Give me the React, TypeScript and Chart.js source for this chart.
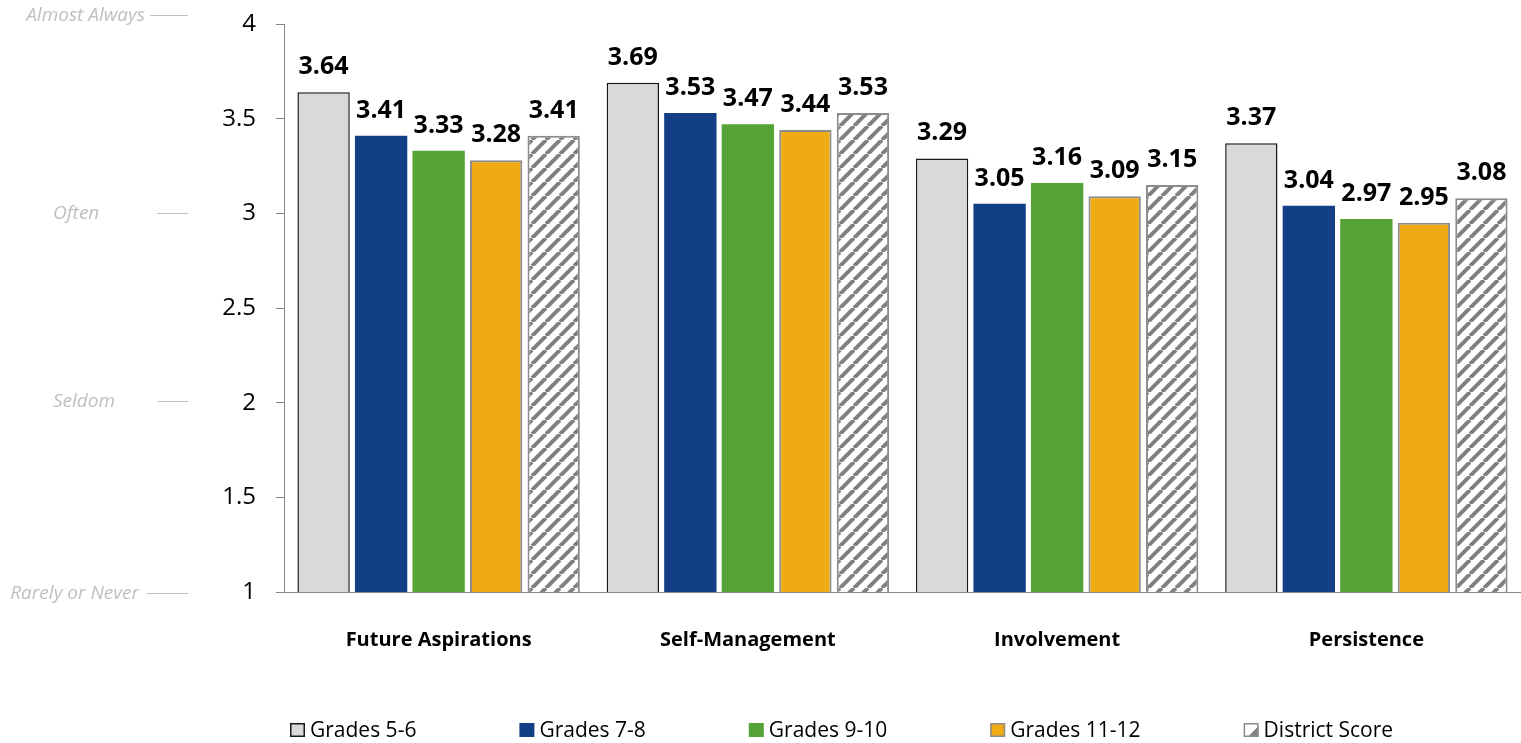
import { useEffect, useRef } from "react";
import { Chart, registerables } from "chart.js";

Chart.register(...registerables);

// Survey categories and the mean score of each grade band
const categories = ["Future Aspirations", "Self-Management", "Involvement", "Persistence"];
const grades56 = [3.64, 3.69, 3.29, 3.37];
const grades78 = [3.41, 3.53, 3.05, 3.04];
const grades910 = [3.33, 3.47, 3.16, 2.97];
const grades1112 = [3.28, 3.44, 3.09, 2.95];
const districtScore = [3.41, 3.53, 3.15, 3.08];
const seriesNames = ["Grades 5-6", "Grades 7-8", "Grades 9-10", "Grades 11-12", "District Score"];

// Response scale
const scaleMin = 1;
const scaleMax = 4;
const scaleStep = 0.5;
const frequencyWords = ["Almost Always", "Often", "Seldom", "Rarely or Never"];
const frequencyValues = [4, 3, 2, 1];

const FONT = "'Open Sans', 'Noto Sans', sans-serif";
const AXIS_GREY = "#868686";

// Where each frequency word sits, relative to its scale value
const frequencyLayout = [
  { align: "right" as CanvasTextAlign, textX: 145, lineX: 150, dy: -9 },
  { align: "left" as CanvasTextAlign, textX: 53, lineX: 157, dy: 0 },
  { align: "left" as CanvasTextAlign, textX: 53, lineX: 158, dy: -2 },
  { align: "right" as CanvasTextAlign, textX: 139, lineX: 147, dy: 1 },
];

function makeHatch(): CanvasPattern | string {
  const size = 14;
  const c = document.createElement("canvas");
  c.width = size;
  c.height = size;
  const g = c.getContext("2d");
  if (!g) return "#ffffff";
  g.fillStyle = "#ffffff";
  g.fillRect(0, 0, size, size);
  g.strokeStyle = "#808080";
  g.lineWidth = 4;
  g.beginPath();
  for (let k = -1; k <= 1; k++) {
    g.moveTo(k * size, size);
    g.lineTo(k * size + size, 0);
  }
  g.stroke();
  return g.createPattern(c, "repeat") || "#ffffff";
}

const valueLabels = {
  id: "valueLabels",
  afterDatasetsDraw(chart: any) {
    const ctx = chart.ctx;
    ctx.save();
    ctx.font = `bold 25px ${FONT}`;
    ctx.fillStyle = "#000000";
    ctx.textAlign = "center";
    ctx.textBaseline = "alphabetic";
    chart.data.datasets.forEach((ds: any, i: number) => {
      const meta = chart.getDatasetMeta(i);
      meta.data.forEach((bar: any, j: number) => {
        const v = ds.data[j] as number;
        ctx.fillText(v.toFixed(2), bar.x, bar.y - 18);
      });
    });
    ctx.restore();
  },
};

const frequencyScale = {
  id: "frequencyScale",
  afterDraw(chart: any) {
    const ctx = chart.ctx;
    const y = chart.scales.y;
    ctx.save();
    ctx.font = `italic 19px ${FONT}`;
    ctx.fillStyle = "#bfbfbf";
    ctx.strokeStyle = "#bfbfbf";
    ctx.lineWidth = 1;
    ctx.textBaseline = "middle";
    frequencyWords.forEach((word, i) => {
      const lay = frequencyLayout[i];
      const py = Math.round(y.getPixelForValue(frequencyValues[i]) + lay.dy) + 0.5;
      ctx.textAlign = lay.align;
      ctx.fillText(word, lay.textX, py);
      ctx.beginPath();
      ctx.moveTo(lay.lineX, py);
      ctx.lineTo(188, py);
      ctx.stroke();
    });
    ctx.restore();
  },
};

const bottomLegend = {
  id: "bottomLegend",
  afterDraw(chart: any) {
    const ctx = chart.ctx;
    const datasets = chart.data.datasets;
    const box = 15;
    const cy = 730;
    let x = 290;
    ctx.save();
    ctx.font = `21px ${FONT}`;
    ctx.textBaseline = "middle";
    ctx.textAlign = "left";
    datasets.forEach((ds: any, i: number) => {
      const top = cy - 7;
      if (i === 4) {
        ctx.fillStyle = "#ffffff";
        ctx.fillRect(x, top, box, 14);
        ctx.fillStyle = "#808080";
        ctx.beginPath();
        ctx.moveTo(x + box, top + 3);
        ctx.lineTo(x + box, top + 14);
        ctx.lineTo(x + 4, top + 14);
        ctx.closePath();
        ctx.fill();
      } else {
        ctx.fillStyle = ds.backgroundColor;
        ctx.fillRect(x, top, box, 14);
      }
      if (ds.borderWidth > 0) {
        ctx.strokeStyle = ds.borderColor;
        ctx.lineWidth = 1.5;
        ctx.strokeRect(x + 0.75, top + 0.75, box - 1.5, 12.5);
      }
      ctx.fillStyle = "#000000";
      ctx.fillText(ds.label, x + box + 5, cy + 1);
      const w = ctx.measureText(ds.label).width;
      x += box + 5 + w + 103;
    });
    ctx.restore();
  },
};

export default function App() {
  const canvasRef = useRef<HTMLCanvasElement | null>(null);

  useEffect(() => {
    const canvas = canvasRef.current;
    if (!canvas) return;
    const hatch = makeHatch();
    const chart = new Chart(canvas, {
      type: "bar",
      data: {
        labels: categories,
        datasets: [
          { label: seriesNames[0], data: grades56, backgroundColor: "#d9d9d9", borderColor: "#1a1a1a", borderWidth: 1.5 },
          { label: seriesNames[1], data: grades78, backgroundColor: "#133f86", borderColor: "#133f86", borderWidth: 0 },
          { label: seriesNames[2], data: grades910, backgroundColor: "#55a236", borderColor: "#55a236", borderWidth: 0 },
          { label: seriesNames[3], data: grades1112, backgroundColor: "#f0aa14", borderColor: "#8c8c8c", borderWidth: 2 },
          { label: seriesNames[4], data: districtScore, backgroundColor: hatch as any, borderColor: "#8c8c8c", borderWidth: 2 },
        ],
      },
      options: {
        responsive: false,
        animation: false,
        events: [],
        layout: { padding: { top: 24, left: 0, right: 0, bottom: 0 } },
        datasets: { bar: { categoryPercentage: 0.93, barPercentage: 0.91 } },
        plugins: {
          legend: { display: false },
          tooltip: { enabled: false },
        },
        scales: {
          x: {
            grid: { display: true, drawOnChartArea: false, drawTicks: false },
            border: { display: true, color: AXIS_GREY, width: 1 },
            ticks: { font: { family: FONT, size: 20, weight: "bold" }, color: "#000000", padding: 36 },
            afterFit(scale: any) {
              scale.height = 151;
            },
          },
          y: {
            min: scaleMin,
            max: scaleMax,
            ticks: {
              stepSize: scaleStep,
              font: { family: FONT, size: 24 },
              color: "#000000",
              padding: 20,
              callback: (value: any) => String(Number(value)),
            },
            grid: { display: true, drawOnChartArea: false, drawTicks: true, tickLength: 8, color: AXIS_GREY },
            border: { display: true, color: AXIS_GREY, width: 1 },
            afterFit(scale: any) {
              scale.width = 284;
              scale.paddingTop = 0;
              scale.paddingBottom = 0;
            },
          },
        },
      },
      plugins: [valueLabels, frequencyScale, bottomLegend],
    });
    return () => chart.destroy();
  }, []);

  return (
    <div style={{ position: "absolute", left: 0, top: 0, width: 1521, height: 743, background: "#ffffff" }}>
      <canvas ref={canvasRef} width={1521} height={743} style={{ display: "block" }} />
    </div>
  );
}
